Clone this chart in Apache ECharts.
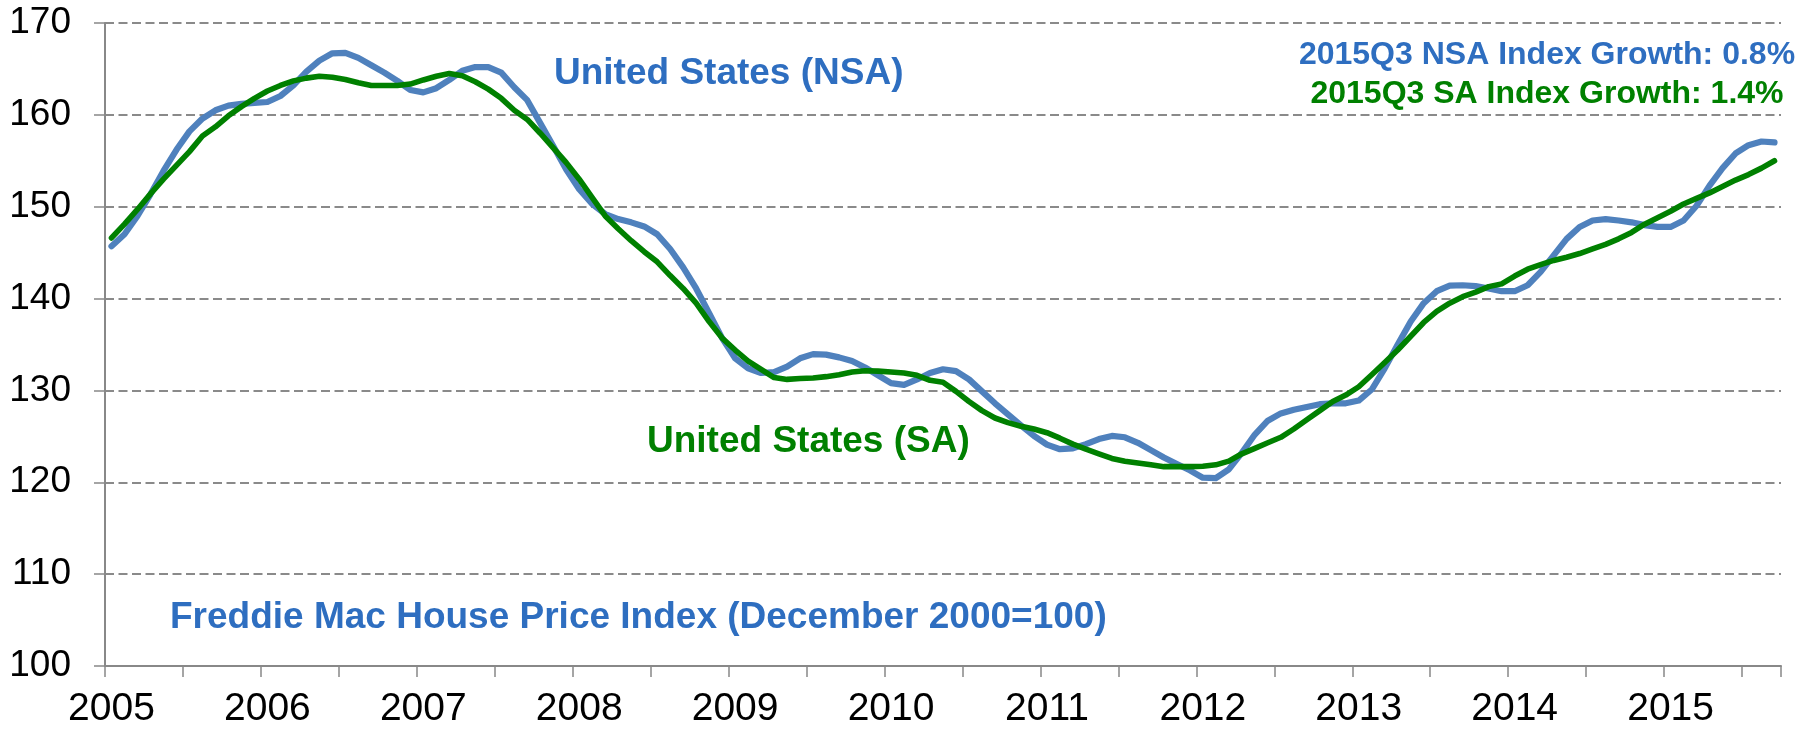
<!DOCTYPE html>
<html>
<head>
<meta charset="utf-8">
<title>Freddie Mac House Price Index</title>
<script src="https://cdn.jsdelivr.net/npm/echarts@6/dist/echarts.min.js"></script>
<style>
  html, body { margin: 0; padding: 0; background: #fff; }
  #main { width: 1812px; height: 729px; }
</style>
</head>
<body>
<div id="main"></div>
<script>
// years on the axis, data is monthly Jan 2005 .. Sep 2015
var years = ['2005','2006','2007','2008','2009','2010','2011','2012','2013','2014','2015'];
var lastYearMonths = 9;

// United States, not seasonally adjusted
var nsaValues = [
  145.7, 147.0, 149.0, 151.35, 153.9, 156.2, 158.2, 159.6, 160.5, 161.0, 161.2, 161.3,
  161.4, 162.05, 163.2, 164.7, 165.9, 166.7, 166.75, 166.2, 165.4, 164.6, 163.7, 162.7,
  162.45, 162.9, 163.8, 164.8, 165.2, 165.2, 164.6, 163.0, 161.6, 159.1, 156.6, 154.05,
  151.9, 150.3, 149.2, 148.65, 148.3, 147.85, 147.0, 145.4, 143.4, 141.1, 138.4, 135.7,
  133.5, 132.4, 131.9, 132.0, 132.6, 133.5, 133.95, 133.9, 133.6, 133.2, 132.5, 131.65,
  130.8, 130.6, 131.2, 131.9, 132.3, 132.1, 131.2, 129.9, 128.6, 127.4, 126.2, 125.05,
  124.1, 123.6, 123.7, 124.15, 124.7, 125.05, 124.9, 124.3, 123.5, 122.7, 122.0, 121.3,
  120.5, 120.45, 121.4, 123.2, 125.2, 126.7, 127.5, 127.9, 128.2, 128.5, 128.6, 128.6,
  128.9, 130.1, 132.4, 135.0, 137.5, 139.5, 140.8, 141.4, 141.45, 141.35, 141.1, 140.8,
  140.8, 141.45, 142.9, 144.7, 146.5, 147.8, 148.5, 148.65, 148.5, 148.3, 148.0, 147.8,
  147.8, 148.5, 150.1, 152.3, 154.2, 155.8, 156.7, 157.1, 157.0
];

// United States, seasonally adjusted
var saValues = [
  146.6, 148.1, 149.7, 151.4, 153.0, 154.5, 156.0, 157.7, 158.7, 159.9, 160.9, 161.8,
  162.6, 163.2, 163.7, 164.0, 164.2, 164.1, 163.85, 163.5, 163.2, 163.2, 163.2, 163.35,
  163.8, 164.2, 164.5, 164.25, 163.6, 162.8, 161.8, 160.5, 159.5, 158.0, 156.4, 154.8,
  153.0, 151.0, 149.0, 147.6, 146.3, 145.1, 144.0, 142.5, 141.1, 139.5, 137.5, 135.7,
  134.4, 133.2, 132.3, 131.4, 131.2, 131.3, 131.35, 131.5, 131.7, 132.0, 132.15, 132.1,
  132.0, 131.9, 131.65, 131.1, 130.9, 129.9, 128.8, 127.8, 127.0, 126.5, 126.1, 125.8,
  125.4, 124.8, 124.15, 123.6, 123.1, 122.6, 122.3, 122.1, 121.9, 121.7, 121.7, 121.7,
  121.75, 121.9, 122.3, 123.1, 123.7, 124.3, 124.9, 125.8, 126.8, 127.8, 128.8, 129.5,
  130.4, 131.7, 133.05, 134.4, 135.9, 137.4, 138.6, 139.5, 140.2, 140.7, 141.3, 141.6,
  142.45, 143.2, 143.7, 144.15, 144.5, 144.9, 145.4, 145.9, 146.5, 147.2, 148.1, 148.8,
  149.5, 150.3, 150.9, 151.5, 152.2, 152.9, 153.5, 154.2, 155.0
];

var yTicks = { min: 100, max: 170, step: 10 };

// month categories like 2005-01
var months = [];
years.forEach(function (y, k) {
  var n = (k === years.length - 1) ? lastYearMonths : 12;
  for (var m = 1; m <= n; m++) {
    months.push(y + '-' + (m < 10 ? '0' + m : m));
  }
});

var font = "'Liberation Sans', Arial, sans-serif";
var gray = '#888888';
var blueText = '#2E6EC0';
var greenText = '#008000';

var chart = echarts.init(document.getElementById('main'));

chart.setOption({
  backgroundColor: '#ffffff',
  animation: false,
  grid: { left: 105, right: 31, top: 23, bottom: 59 },
  xAxis: {
    type: 'category',
    data: months,
    boundaryGap: true,
    axisLine: { lineStyle: { color: gray, width: 2 } },
    axisTick: {
      show: true,
      length: 11,
      interval: function (idx) { return idx % 6 === 0; },
      lineStyle: { color: gray, width: 1.5 }
    },
    axisLabel: {
      interval: function (idx) { return idx % 12 === 0; },
      formatter: function (v) { return v.slice(0, 4); },
      color: '#000',
      fontFamily: font,
      fontSize: 39,
      margin: 24
    },
    splitLine: { show: false }
  },
  yAxis: {
    type: 'value',
    min: yTicks.min,
    max: yTicks.max,
    interval: yTicks.step,
    axisLine: { show: true, lineStyle: { color: gray, width: 2 } },
    axisTick: { show: true, length: 11, lineStyle: { color: gray, width: 1.5 } },
    axisLabel: {
      color: '#000',
      fontFamily: font,
      fontSize: 37,
      margin: 34
    },
    splitLine: {
      show: true,
      lineStyle: { color: '#8a8a8a', width: 2, type: [9, 4.5] }
    }
  },
  series: [
    {
      name: 'United States (NSA)',
      type: 'line',
      data: nsaValues,
      showSymbol: false,
      smooth: false,
      lineStyle: { color: '#4F81BD', width: 6.2, join: 'round', cap: 'round' },
      z: 2
    },
    {
      name: 'United States (SA)',
      type: 'line',
      data: saValues,
      showSymbol: false,
      smooth: false,
      lineStyle: { color: '#008000', width: 5.6, join: 'round', cap: 'round' },
      z: 3
    }
  ],
  graphic: [
    {
      type: 'text', x: 554, y: 74,
      style: { text: 'United States (NSA)', fill: blueText, font: 'bold 37px ' + font, align: 'left', verticalAlign: 'middle' }
    },
    {
      type: 'text', x: 647, y: 442,
      style: { text: 'United States (SA)', fill: greenText, font: 'bold 37px ' + font, align: 'left', verticalAlign: 'middle' }
    },
    {
      type: 'text', x: 170, y: 618,
      style: { text: 'Freddie Mac House Price Index (December 2000=100)', fill: blueText, font: 'bold 37px ' + font, align: 'left', verticalAlign: 'middle' }
    },
    {
      type: 'text', x: 1547, y: 55,
      style: { text: '2015Q3 NSA Index Growth: 0.8%', fill: blueText, font: 'bold 32px ' + font, align: 'center', verticalAlign: 'middle' }
    },
    {
      type: 'text', x: 1547, y: 94,
      style: { text: '2015Q3 SA Index Growth: 1.4%', fill: greenText, font: 'bold 32px ' + font, align: 'center', verticalAlign: 'middle' }
    }
  ]
});
</script>
</body>
</html>
